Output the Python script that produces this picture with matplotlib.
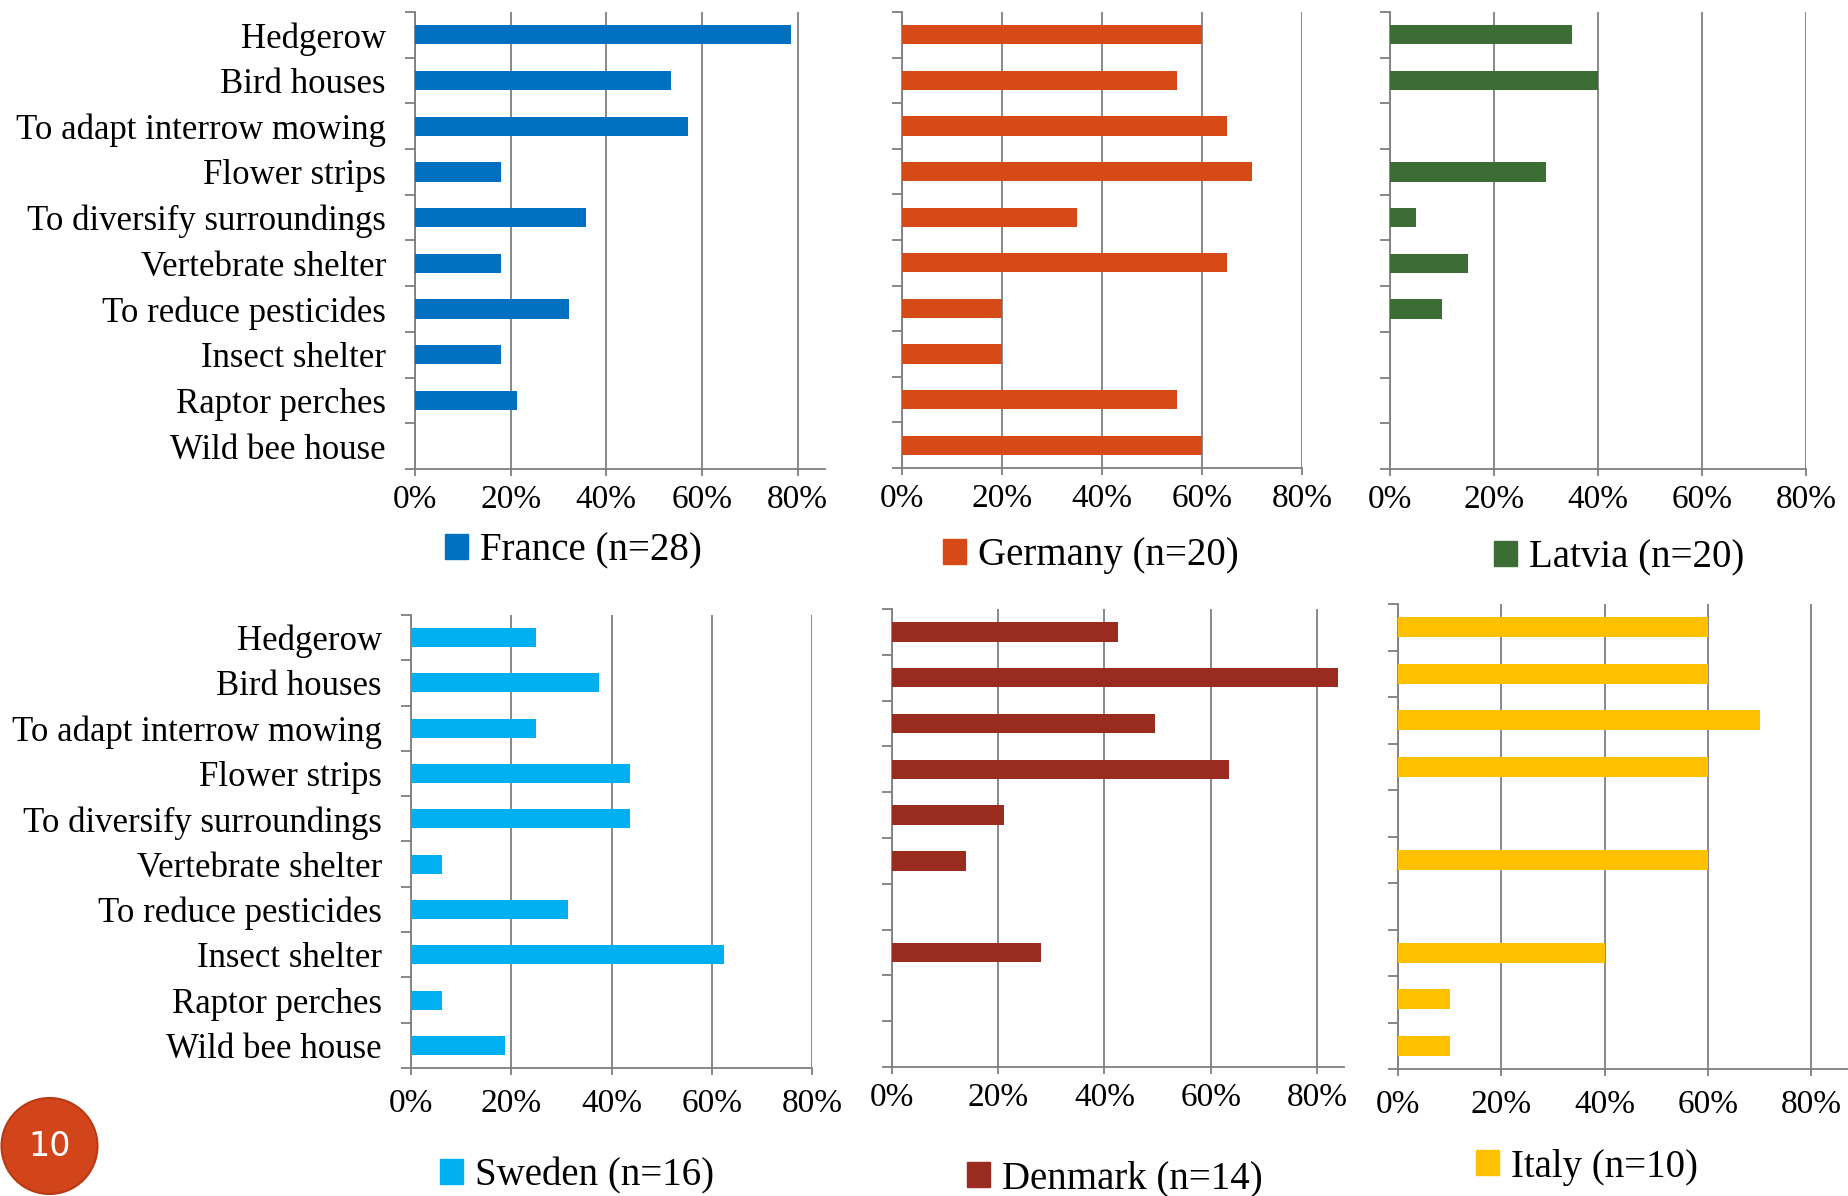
import numpy as np
import matplotlib
matplotlib.use('Agg')
import matplotlib.pyplot as plt
from matplotlib.patches import Patch, Ellipse

plt.rcParams['font.family'] = ['Liberation Serif', 'DejaVu Serif']

# categories (top to bottom)
categories = ['Hedgerow', 'Bird houses', 'To adapt interrow mowing', 'Flower strips',
              'To diversify surroundings', 'Vertebrate shelter', 'To reduce pesticides',
              'Insect shelter', 'Raptor perches', 'Wild bee house']

# share of respondents per country
france = [0.786, 0.536, 0.571, 0.179, 0.357, 0.179, 0.321, 0.179, 0.214, 0.0]
germany = [0.60, 0.55, 0.65, 0.70, 0.35, 0.65, 0.20, 0.20, 0.55, 0.60]
latvia = [0.35, 0.40, 0.0, 0.30, 0.05, 0.15, 0.10, 0.0, 0.0, 0.0]
sweden = [0.25, 0.375, 0.25, 0.4375, 0.4375, 0.0625, 0.3125, 0.625, 0.0625, 0.1875]
denmark = [0.425, 0.84, 0.495, 0.635, 0.21, 0.14, 0.0, 0.28, 0.0, 0.0]
italy = [0.60, 0.60, 0.70, 0.60, 0.0, 0.60, 0.0, 0.40, 0.10, 0.10]

legend_names = ['France (n=28)', 'Germany (n=20)', 'Latvia (n=20)',
                'Sweden (n=16)', 'Denmark (n=14)', 'Italy (n=10)']
colors = ['#0070C0', '#D64A17', '#3B6D35', '#00B0F0', '#992B1F', '#FFC000']
series = [france, germany, latvia, sweden, denmark, italy]

W, H = 1849, 1196
fig = plt.figure(figsize=(W / 100, H / 100), dpi=100)

# axes boxes in pixels: left, top, right, bottom, xmax
boxes = [
    (415, 12, 825, 469, 0.857),
    (902, 12, 1302, 468, 0.80),
    (1390, 12, 1806, 469, 0.80),
    (411, 615, 812, 1068, 0.80),
    (892, 609, 1344, 1067, 0.851),
    (1398, 604, 1848, 1069, 0.871),
]
# extra gap under the x tick labels (points)
xpads = [6, 6, 6, 10, 6, 10]
# legend anchor (square left x, center y) in pixels
leg_pos = [(445, 551), (943, 556), (1494, 558), (440, 1176), (967, 1179), (1476, 1167)]

grid_c = '#7f7f7f'
y = np.arange(len(categories))
for i, (vals, col, name) in enumerate(zip(series, colors, legend_names)):
    l, t, r, b, xmax = boxes[i]
    ax = fig.add_axes([l / W, 1 - b / H, (r - l) / W, (b - t) / H])
    ax.barh(y, vals, height=0.42, color=col, zorder=3)
    ax.set_ylim(9.5, -0.5)
    ax.set_xlim(0, xmax)
    ax.set_xticks([0, 0.2, 0.4, 0.6, 0.8])
    ax.set_xticklabels(['0%', '20%', '40%', '60%', '80%'], fontsize=24)
    ax.xaxis.grid(True, color=grid_c, linewidth=1.3, zorder=0)
    ax.set_yticks(y)
    if i % 3 == 0:
        ax.set_yticklabels(categories, fontsize=25)
    else:
        ax.set_yticklabels([])
    ax.set_yticks(np.arange(-0.5, 10, 1), minor=True)
    ax.tick_params(axis='y', which='major', length=0, pad=21)
    ax.tick_params(axis='y', which='minor', length=7, color=grid_c, width=1.3)
    ax.tick_params(axis='x', length=5, color=grid_c, width=1.3, pad=xpads[i])
    for s in ['top', 'right']:
        ax.spines[s].set_visible(False)
    for s in ['left', 'bottom']:
        ax.spines[s].set_color(grid_c)
        ax.spines[s].set_linewidth(1.3)
    lx, ly = leg_pos[i]
    fig.legend(handles=[Patch(color=col)], labels=[name], loc='center left',
               bbox_to_anchor=(lx / W, 1 - ly / H), frameon=False, fontsize=28,
               handlelength=0.6, handleheight=0.6, handletextpad=0.3,
               borderpad=0, borderaxespad=0)

# page number badge
badge = Ellipse((49.5 / W, 1 - 1146 / H), 96 / W, 96 / H, transform=fig.transFigure,
                facecolor='#D2451B', edgecolor='#B83A14', linewidth=1.5)
fig.patches.append(badge)
fig.text(49.5 / W, 1 - 1146 / H, '10', color='white', fontsize=24,
         family='DejaVu Sans', ha='center', va='center')

fig.savefig('out.png', dpi=100)
